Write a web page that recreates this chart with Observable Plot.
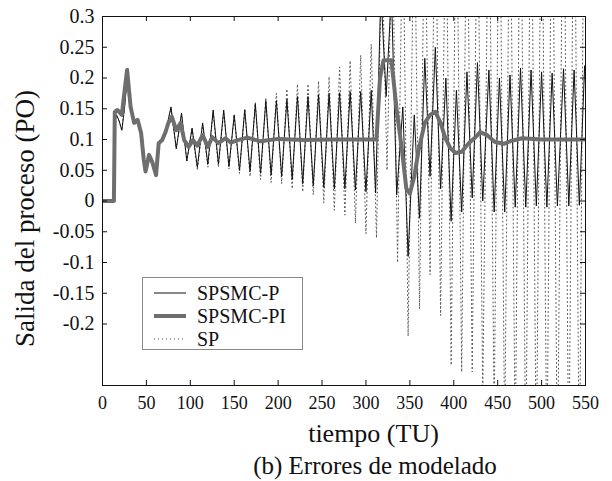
<!DOCTYPE html>
<html>
<head>
<meta charset="utf-8">
<script src="https://cdn.jsdelivr.net/npm/d3@7"></script>
<script src="https://cdn.jsdelivr.net/npm/@observablehq/plot@0.6"></script>
<style>
  html, body { margin: 0; padding: 0; background: #fff; }
  #wrap { position: relative; width: 612px; height: 481px; overflow: hidden; font-family: 'Liberation Serif', serif; }
  #legend { position: absolute; left: 142px; top: 277px; width: 161px; height: 73px; box-sizing: border-box;
            border: 1px solid #8a8a8a; background: #fff; }
  .row { position: absolute; left: 0; height: 22px; width: 100%; }
  .row svg { position: absolute; left: 10px; top: 0; }
  .row span { position: absolute; left: 54px; top: 0; font-size: 20px; line-height: 22px; color: #111; }
</style>
</head>
<body>
<div id="wrap"></div>
<script>
// ---- data ----
const xTickValues = [0, 50, 100, 150, 200, 250, 300, 350, 400, 450, 500, 550];
const yTickValues = [0.3, 0.25, 0.2, 0.15, 0.1, 0.05, 0, -0.05, -0.1, -0.15, -0.2];
const seriesNames = ["SPSMC-P", "SPSMC-PI", "SP"];
const xLabel = "tiempo (TU)";
const yLabel = "Salida del proceso (PO)";
const caption = "(b) Errores de modelado";

// [time, output]
const spsmcP = [[0,0],[13,0],[14,0.13],[16,0.14],[19,0.13],[22,0.115],[25,0.15],[29,0.215],[32,0.15],[36,0.127],[40,0.132],[44,0.11],[47,0.067],[49,0.048],[53,0.075],[57,0.062],[61,0.042],[64,0.094],[68,0.099],[72,0.113],[78,0.153],[84,0.085],[90,0.143],[96,0.065],[102,0.118],[108,0.055],[114,0.127],[120,0.06],[126,0.148],[132,0.06],[138,0.148],[144,0.056],[150,0.14],[156,0.05],[162,0.148],[168,0.048],[174,0.158],[180,0.045],[186,0.163],[192,0.042],[198,0.163],[204,0.04],[210,0.165],[216,0.035],[222,0.17],[228,0.028],[234,0.17],[240,0.025],[246,0.173],[252,0.022],[258,0.175],[264,0.02],[270,0.176],[276,0.02],[282,0.178],[288,0.018],[294,0.178],[300,0.015],[306,0.18],[311,0.013],[317,0.34],[323,0.17],[329,0.34],[335,0.01],[342,0.153],[348,-0.09],[355,0.14],[361,-0.028],[367,0.232],[373,0.04],[379,0.25],[385,0.02],[391,0.2],[397,-0.033],[403,0.18],[409,-0.018],[415,0.21],[421,0.005],[427,0.225],[433,0],[440,0.213],[446,-0.018],[452,0.2],[458,-0.018],[464,0.205],[470,-0.01],[476,0.216],[482,-0.01],[488,0.213],[494,-0.008],[500,0.21],[506,-0.01],[512,0.208],[518,-0.008],[525,0.215],[531,-0.008],[537,0.213],[543,-0.007],[549,0.22],[550,0.19]];

const spsmcPI = [[0,0],[13,0],[14,0.145],[17,0.148],[22,0.14],[24,0.165],[28,0.213],[32,0.153],[36,0.127],[40,0.132],[44,0.11],[47,0.067],[49,0.048],[53,0.075],[57,0.062],[61,0.042],[64,0.094],[68,0.099],[72,0.113],[75,0.127],[79,0.137],[84,0.115],[89,0.127],[93,0.099],[98,0.088],[103,0.099],[108,0.09],[114,0.107],[120,0.088],[125,0.104],[132,0.094],[140,0.102],[146,0.095],[154,0.099],[165,0.103],[180,0.097],[200,0.101],[230,0.099],[260,0.1],[290,0.1],[312,0.1],[316,0.2],[320,0.229],[329,0.229],[335,0.148],[341,0.083],[346,0.02],[350,0.012],[355,0.04],[360,0.083],[367,0.127],[373,0.14],[379,0.145],[385,0.127],[390,0.104],[396,0.086],[402,0.078],[409,0.08],[417,0.094],[425,0.104],[430,0.112],[438,0.107],[447,0.096],[457,0.093],[466,0.098],[478,0.102],[500,0.1],[530,0.1],[550,0.1]];

const sp = [[0,0],[13,0],[14,0.13],[16,0.14],[19,0.13],[22,0.115],[25,0.15],[29,0.215],[32,0.15],[36,0.127],[40,0.132],[44,0.11],[47,0.067],[49,0.048],[53,0.075],[57,0.062],[61,0.042],[64,0.094],[68,0.099],[72,0.113],[78,0.15],[84,0.085],[90,0.14],[96,0.065],[102,0.12],[108,0.05],[114,0.125],[120,0.055],[126,0.145],[132,0.055],[138,0.145],[144,0.052],[150,0.14],[156,0.045],[162,0.15],[168,0.04],[174,0.16],[180,0.035],[186,0.168],[192,0.03],[198,0.175],[204,0.028],[210,0.182],[216,0.02],[222,0.19],[228,0.015],[234,0.19],[240,0.01],[246,0.195],[252,-0.003],[258,0.202],[264,-0.015],[270,0.218],[276,-0.023],[282,0.228],[288,-0.036],[294,0.237],[300,-0.053],[306,0.255],[312,-0.06],[318,0.42],[324,0.05],[330,0.45],[336,-0.1],[342,0.48],[348,-0.22],[355,0.5],[361,-0.175],[367,0.5],[373,-0.12],[379,0.52],[385,-0.186],[391,0.52],[397,-0.267],[403,0.55],[409,-0.278],[415,0.55],[421,-0.278],[427,0.55],[433,-0.32],[440,0.58],[446,-0.36],[452,0.6],[458,-0.4],[464,0.6],[470,-0.42],[476,0.62],[482,-0.45],[488,0.62],[494,-0.45],[500,0.63],[506,-0.46],[512,0.63],[518,-0.46],[525,0.64],[531,-0.47],[537,0.64],[543,-0.47],[549,0.65],[550,0.6]];

// ---- styles ----
const styles = [
  {stroke: "#111", strokeWidth: 1, strokeDasharray: null},
  {stroke: "#6e6e6e", strokeWidth: 4, strokeDasharray: null},
  {stroke: "#555", strokeWidth: 1, strokeDasharray: "1,3"}
];

const W = 612, H = 481;
const mL = 102, mR = 27, mT = 16, mB = 96;
const iw = W - mL - mR, ih = H - mT - mB;
const X = d => d[0], Y = d => d[1];
const serif = "'Liberation Serif', serif";

const chart = Plot.plot({
  width: W, height: H,
  marginLeft: mL, marginRight: mR, marginTop: mT, marginBottom: mB,
  x: {domain: [0, 550]},
  y: {domain: [-0.3, 0.3]},
  style: {background: "#fff", color: "#111", overflow: "visible"},
  marks: [
    Plot.line(sp, {x: X, y: Y, ...styles[2], clip: true}),
    Plot.line(spsmcP, {x: X, y: Y, ...styles[0], clip: true}),
    Plot.line(spsmcPI, {x: X, y: Y, ...styles[1], strokeLinejoin: "round", clip: true}),
    Plot.frame({stroke: "#111", strokeWidth: 1}),
    Plot.tickX(xTickValues, {x: d => d, insetTop: ih - 5, stroke: "#111"}),
    Plot.tickX(xTickValues, {x: d => d, insetBottom: ih - 5, stroke: "#111"}),
    Plot.tickY(yTickValues, {y: d => d, insetRight: iw - 5, stroke: "#111"}),
    Plot.tickY(yTickValues, {y: d => d, insetLeft: iw - 5, stroke: "#111"}),
    Plot.axisX(xTickValues, {tickSize: 0, tickPadding: 11, fontSize: 18, fontFamily: serif, label: null, tickFormat: d => String(d)}),
    Plot.axisY(yTickValues, {tickSize: 0, tickPadding: 8, fontSize: 20, fontFamily: serif, label: null, tickFormat: d => String(d)}),
    Plot.text([yLabel], {text: d => d, frameAnchor: "middle", textAnchor: "middle", lineAnchor: "middle", rotate: -90, dx: -319, dy: 17.5, fontSize: 27, fontFamily: serif}),
    Plot.text([xLabel], {text: d => d, frameAnchor: "middle", textAnchor: "middle", lineAnchor: "middle", dx: 29.5, dy: 233, fontSize: 26, fontFamily: serif}),
    Plot.text([caption], {text: d => d, frameAnchor: "middle", textAnchor: "middle", lineAnchor: "middle", dx: 31, dy: 265, fontSize: 25, fontFamily: serif})
  ]
});

const wrap = document.getElementById("wrap");
wrap.appendChild(chart);

// legend inside the axes
const leg = document.createElement("div");
leg.id = "legend";
seriesNames.forEach((name, i) => {
  const row = document.createElement("div");
  row.className = "row";
  row.style.top = (4 + i * 23) + "px";
  const s = styles[i];
  row.innerHTML = `<svg width="34" height="22"><line x1="1" y1="11" x2="33" y2="11" stroke="${s.stroke}" stroke-width="${s.strokeWidth}" ${s.strokeDasharray ? `stroke-dasharray="${s.strokeDasharray}"` : ""}/></svg><span style="font-family:${serif}">${name}</span>`;
  leg.appendChild(row);
});
wrap.appendChild(leg);
</script>
</body>
</html>
